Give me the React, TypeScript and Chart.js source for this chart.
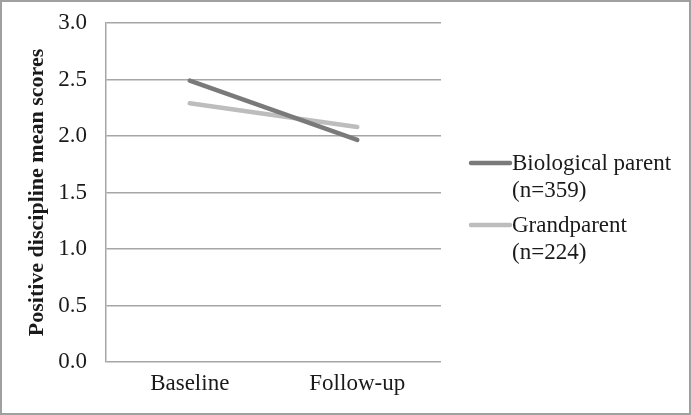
import React, { useEffect, useRef } from "react";
import { Chart, registerables } from "chart.js";

Chart.register(...registerables);

const categories = ["Baseline", "Follow-up"];
const biologicalParent = [2.49, 1.965];
const grandparent = [2.29, 2.08];
const seriesLabels = [["Biological parent", "(n=359)"], ["Grandparent", "(n=224)"]];
const yTitle = "Positive discipline mean scores";
const FONT = "'Liberation Serif', 'Times New Roman', serif";

const legendPlugin = {
  id: "customLegend",
  afterDraw(chart: any) {
    const ctx = chart.ctx;
    const area = chart.chartArea;
    const fontSize = 23;
    const lineH = 27;
    const gap = 8;
    const ds = chart.data.datasets;
    const blocks = ds.map((d: any) => (d.legendLines as string[]).length * lineH);
    const total = blocks.reduce((a: number, b: number) => a + b, 0) + gap * (ds.length - 1);
    let y = chart.height / 2 - total / 2;
    const x0 = area.right + 30;
    const segW = 39;
    ctx.save();
    ctx.font = `${fontSize}px ${FONT}`;
    ctx.textBaseline = "middle";
    ctx.fillStyle = "#1a1a1a";
    ds.forEach((d: any, i: number) => {
      const lines: string[] = d.legendLines;
      ctx.strokeStyle = d.borderColor;
      ctx.lineWidth = d.borderWidth;
      ctx.lineCap = "round";
      ctx.beginPath();
      ctx.moveTo(x0, y + lineH / 2);
      ctx.lineTo(x0 + segW, y + lineH / 2);
      ctx.stroke();
      lines.forEach((t, j) => {
        ctx.fillText(t, x0 + segW + 2, y + lineH / 2 + j * lineH + 1);
      });
      y += blocks[i] + gap;
    });
    ctx.restore();
  },
};

export default function App() {
  const ref = useRef<HTMLCanvasElement>(null);
  useEffect(() => {
    document.body.style.margin = "0";
    const chart = new Chart(ref.current!, {
      type: "line",
      data: {
        labels: categories,
        datasets: [
          {
            label: seriesLabels[0].join(" "),
            legendLines: seriesLabels[0],
            data: biologicalParent,
            borderColor: "#7a7a7a",
            borderWidth: 4.5,
            borderCapStyle: "round",
            pointRadius: 0,
            fill: false,
          } as any,
          {
            label: seriesLabels[1].join(" "),
            legendLines: seriesLabels[1],
            data: grandparent,
            borderColor: "#bdbdbd",
            borderWidth: 4.5,
            borderCapStyle: "round",
            pointRadius: 0,
            fill: false,
          } as any,
        ],
      },
      options: {
        animation: false,
        responsive: false,
        layout: { padding: { left: 0, right: 248, top: 21, bottom: 0 } },
        plugins: { legend: { display: false }, tooltip: { enabled: false } },
        scales: {
          x: {
            offset: true,
            grid: { display: false, drawTicks: false },
            border: { display: false },
            ticks: { font: { family: FONT, size: 23 }, color: "#1a1a1a", padding: 8 },
            afterFit: (s: any) => {
              s.height = 51;
              s.paddingLeft = 0;
              s.paddingRight = 0;
            },
          },
          y: {
            min: 0,
            max: 3,
            ticks: {
              stepSize: 0.5,
              font: { family: FONT, size: 23 },
              color: "#1a1a1a",
              padding: 19,
              callback: (v: any) => Number(v).toFixed(1),
            },
            grid: { color: "#a6a6a6", lineWidth: 1.5, drawTicks: false },
            border: { display: true, color: "#a6a6a6", width: 1.5 },
            title: {
              display: true,
              text: yTitle,
              font: { family: FONT, size: 22, weight: "bold" },
              color: "#1a1a1a",
              padding: { top: 22, bottom: 0 },
            },
            afterFit: (s: any) => {
              s.width = 104;
              s.paddingTop = 0;
              s.paddingBottom = 0;
            },
          },
        },
      },
      plugins: [legendPlugin],
    });
    return () => chart.destroy();
  }, []);
  return (
    <div
      style={{
        position: "absolute",
        left: 0,
        top: 0,
        width: 691,
        height: 415,
        boxSizing: "border-box",
        border: "2px solid #a0a0a0",
        background: "#fff",
      }}
    >
      <canvas ref={ref} width={687} height={411} style={{ display: "block" }} />
    </div>
  );
}
